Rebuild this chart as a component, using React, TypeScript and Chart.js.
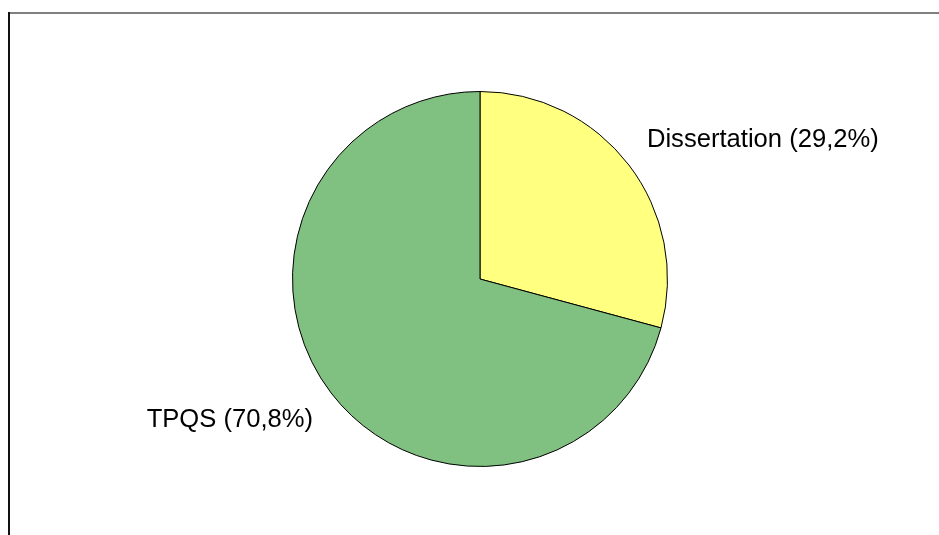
import React, { useEffect, useRef } from "react";
import { Chart, registerables } from "chart.js";

Chart.register(...registerables);

const categories: string[] = ["Dissertation", "TPQS"];
const shares: number[] = [29.2, 70.8];
const sliceColors: string[] = ["#FFFF80", "#80C080"];
const labelTexts: string[] = ["Dissertation (29,2%)", "TPQS (70,8%)"];

const framePlugin = {
  id: "frame",
  beforeDraw(chart: any) {
    const ctx = chart.ctx;
    ctx.save();
    ctx.fillStyle = "#ffffff";
    ctx.fillRect(0, 0, chart.width, chart.height);
    ctx.fillStyle = "#808080";
    ctx.fillRect(8, 12, chart.width - 8, 2);
    ctx.fillStyle = "#111111";
    ctx.fillRect(8, 12, 2, chart.height - 12);
    ctx.restore();
  },
};

const outsideLabels = {
  id: "outsideLabels",
  afterDatasetsDraw(chart: any) {
    const ctx = chart.ctx;
    const meta = chart.getDatasetMeta(0);
    ctx.save();
    ctx.font = '25.6px "Liberation Sans", Arial, sans-serif';
    ctx.fillStyle = "#000000";
    meta.data.forEach((arc: any, i: number) => {
      const p = arc.getProps(["x", "y", "startAngle", "endAngle", "outerRadius"], true);
      const mid = (p.startAngle + p.endAngle) / 2;
      const k = 1.108;
      const right = Math.cos(mid) >= 0;
      const below = Math.sin(mid) >= 0;
      const cx = p.x + Math.cos(mid) * p.outerRadius * k + (right ? 2 : -2);
      const cy = p.y + Math.sin(mid) * p.outerRadius * k;
      ctx.textAlign = right ? "left" : "right";
      ctx.textBaseline = below ? "top" : "bottom";
      ctx.fillText(labelTexts[i], cx, cy + (below ? 2 : 0));
    });
    ctx.restore();
  },
};

export default function App() {
  const ref = useRef<HTMLCanvasElement | null>(null);
  useEffect(() => {
    if (!ref.current) return;
    const chart = new Chart(ref.current, {
      type: "pie",
      data: {
        labels: categories,
        datasets: [
          {
            data: shares,
            backgroundColor: sliceColors,
            borderColor: "#000000",
            borderWidth: 1,
            hoverOffset: 0,
          },
        ],
      },
      options: {
        animation: false,
        responsive: false,
        maintainAspectRatio: false,
        layout: { padding: { left: 292, right: 271, top: 91, bottom: 68 } },
        plugins: {
          legend: { display: false },
          tooltip: { enabled: false },
        },
      },
      plugins: [framePlugin, outsideLabels],
    });
    return () => chart.destroy();
  }, []);
  return (
    <div style={{ position: "absolute", left: 0, top: 0, width: 939, height: 535, background: "#fff" }}>
      <canvas ref={ref} width={939} height={535} style={{ width: 939, height: 535, display: "block" }} />
    </div>
  );
}
